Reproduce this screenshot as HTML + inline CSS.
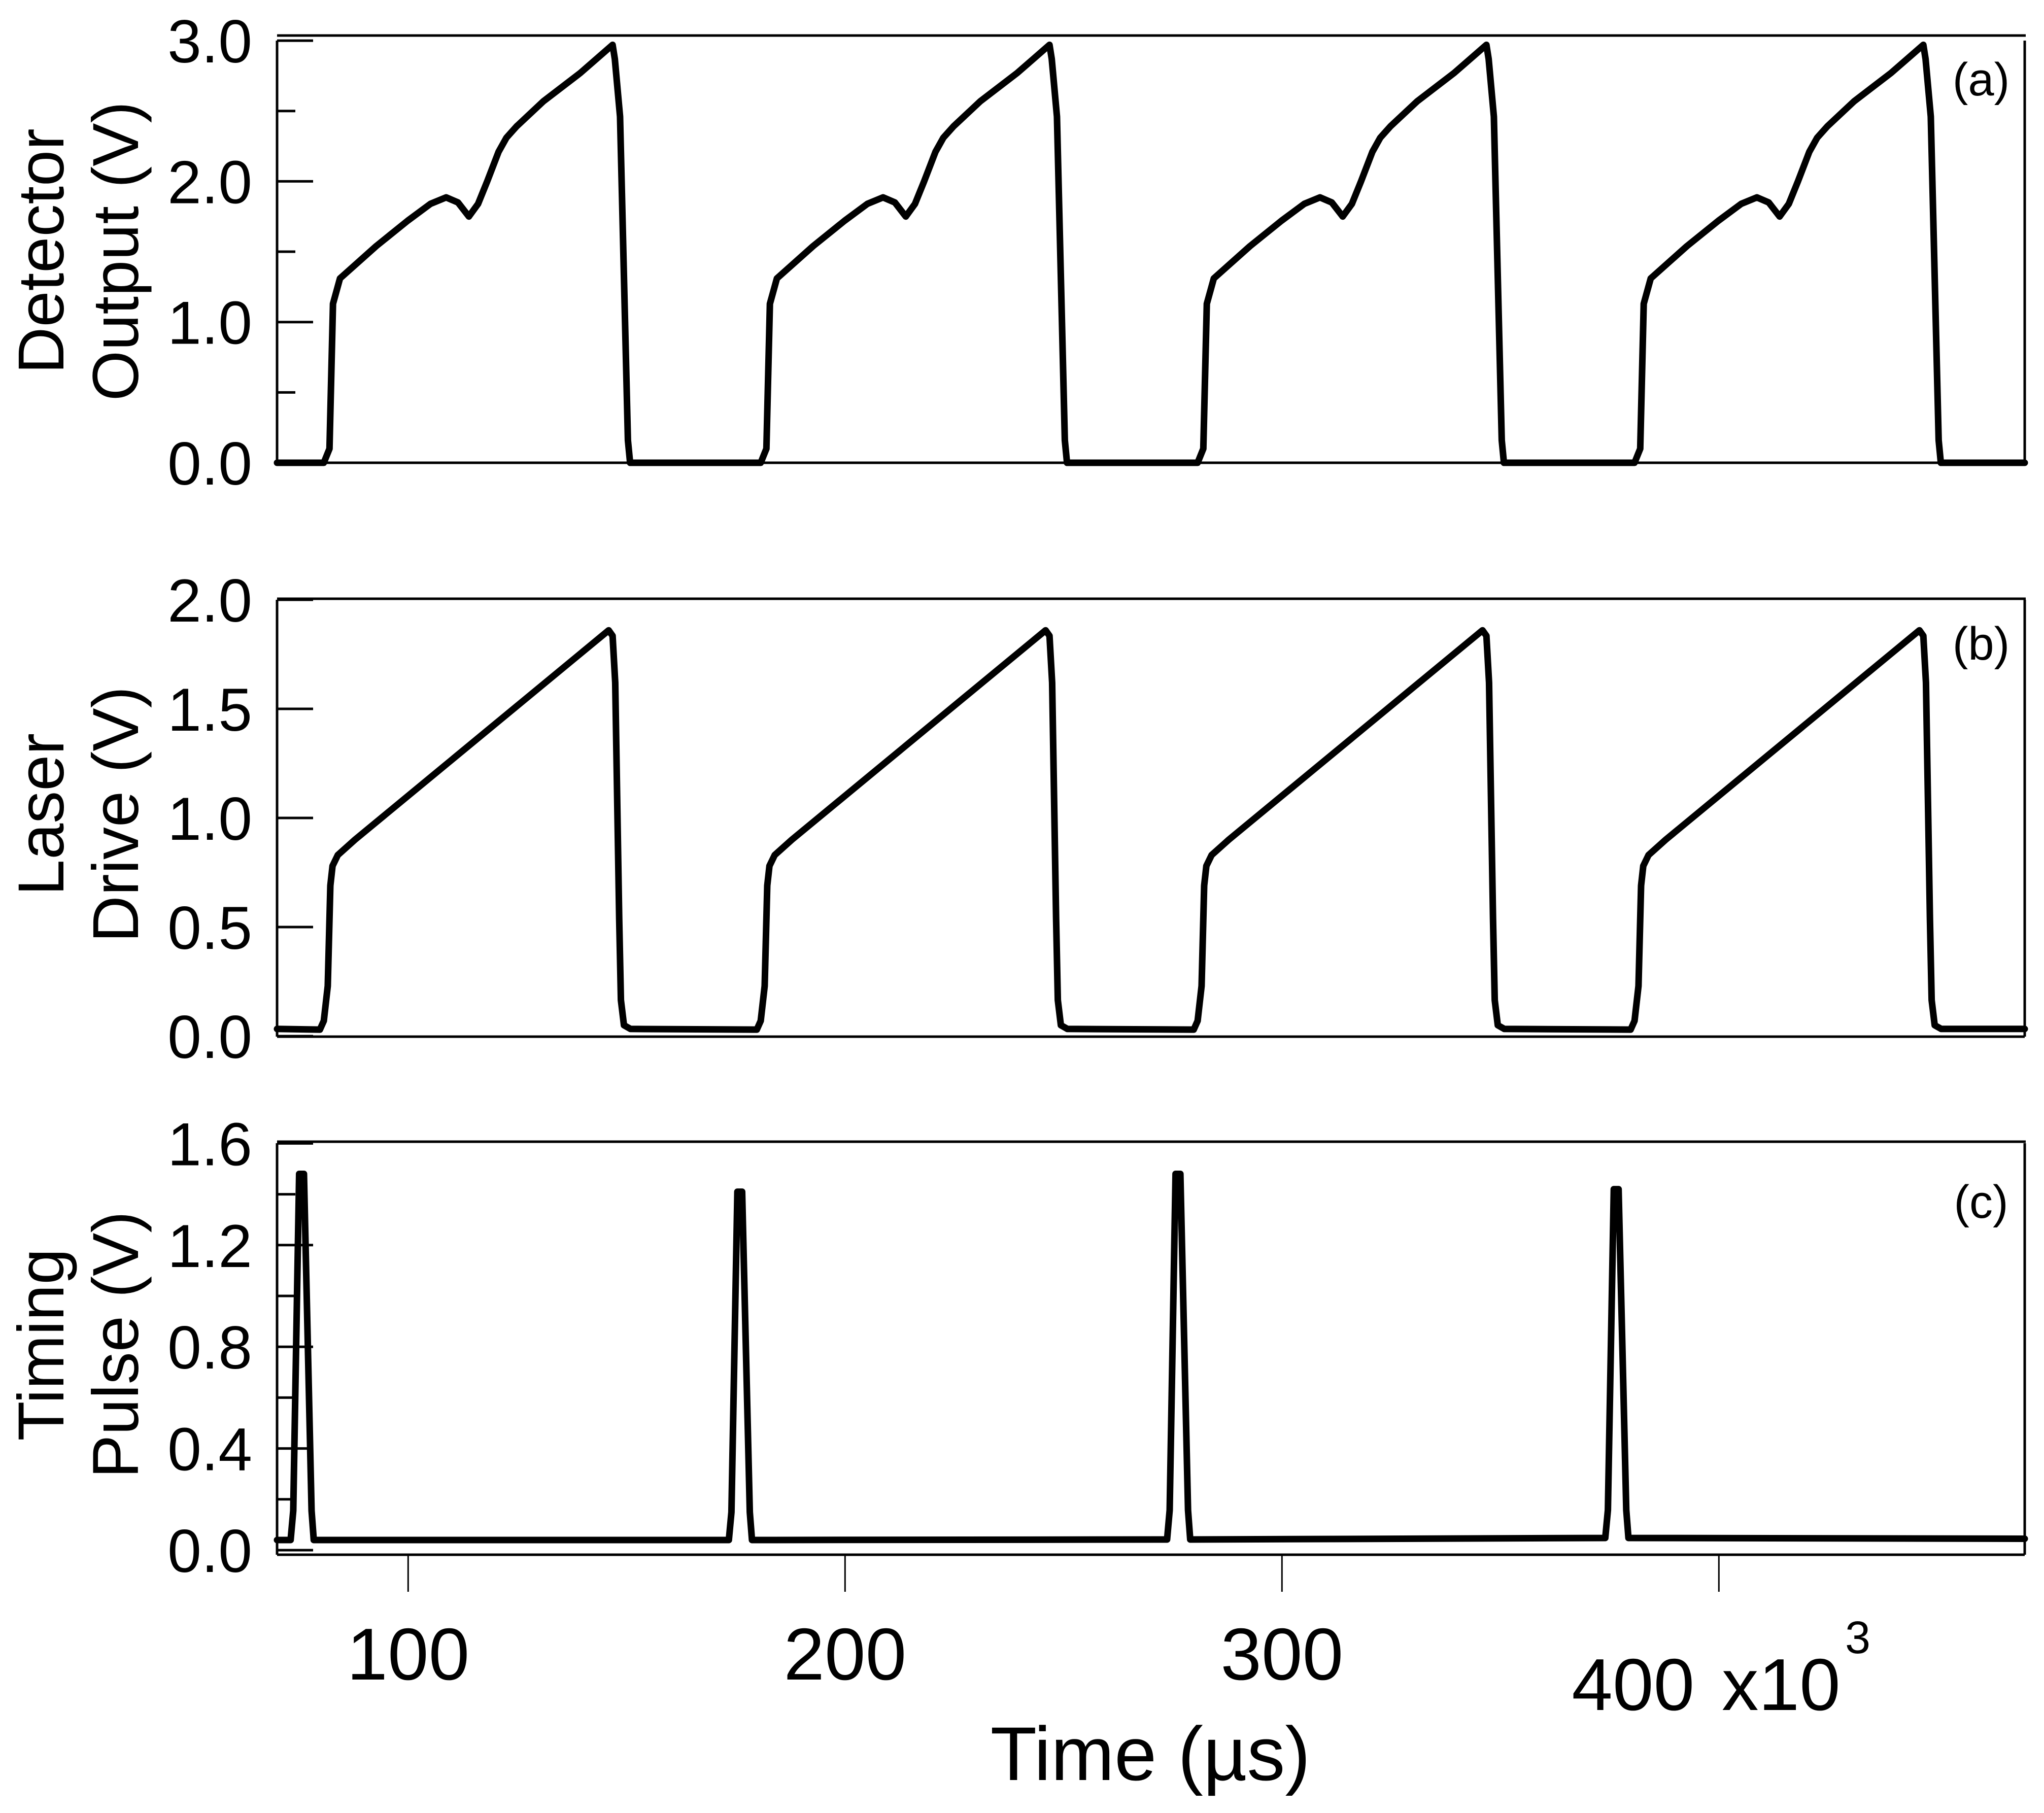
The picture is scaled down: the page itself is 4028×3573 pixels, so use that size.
<!DOCTYPE html>
<html><head><meta charset="utf-8"><style>
html,body{margin:0;padding:0;background:#fff;}
svg{display:block;font-family:"Liberation Sans",Arial,sans-serif;}
</style></head><body>
<svg id="chart" width="4028" height="3573" viewBox="0 0 4028 3573" xmlns="http://www.w3.org/2000/svg">
<g id="axes"></g><g id="traces"></g>
<text x="2267" y="3508" font-size="150" text-anchor="middle">Time (µs)</text>
<text x="3393" y="3370" font-size="145">x10</text>
<text x="3636" y="3258" font-size="90">3</text>
<text font-size="128" text-anchor="middle" transform="translate(125,495) rotate(-90)">Detector</text>
<text font-size="128" text-anchor="middle" transform="translate(272,495) rotate(-90)">Output (V)</text>
<text font-size="128" text-anchor="middle" transform="translate(125,1605) rotate(-90)">Laser</text>
<text font-size="128" text-anchor="middle" transform="translate(272,1605) rotate(-90)">Drive (V)</text>
<text font-size="128" text-anchor="middle" transform="translate(125,2650) rotate(-90)">Timing</text>
<text font-size="128" text-anchor="middle" transform="translate(272,2650) rotate(-90)">Pulse (V)</text>
<text x="3904" y="188" font-size="92" text-anchor="middle">(a)</text>
<text x="3904" y="1300" font-size="92" text-anchor="middle">(b)</text>
<text x="3904" y="2400" font-size="92" text-anchor="middle">(c)</text>
</svg>
<script>
// ---- data ----
const cycleOffsets = [0, 100, 200, 300];
const detTimes = [80.7, 82.0, 82.8, 84.4, 92.7, 99.9, 105.1, 108.7, 111.4, 113.9, 116.0, 118.1, 120.7, 122.5, 124.8, 131.0, 139.4, 146.8, 147.3, 148.5, 150.3, 150.8];
const detValues = [0, 0.10, 1.13, 1.31, 1.54, 1.72, 1.84, 1.886, 1.85, 1.75, 1.84, 2.0, 2.21, 2.31, 2.39, 2.57, 2.77, 2.97, 2.87, 2.46, 0.16, 0];
const detBaseline = 0;
const drvTimes = [79.8, 80.7, 81.6, 82.2, 82.7, 83.9, 87.8, 145.9, 146.8, 147.4, 148.3, 148.7, 149.4, 150.9];
const drvValues = [0.03, 0.07, 0.23, 0.69, 0.78, 0.83, 0.90, 1.86, 1.835, 1.62, 0.54, 0.165, 0.05, 0.033];
const drvBaseline = 0.033;
const spikeCenters = [75.6, 175.9, 276.2, 376.5];
const spikePeaks = [1.48, 1.41, 1.48, 1.42];
const spikeRel = [-2.5, -1.9, -0.55, 0.55, 2.3, 2.8];
const spikeFrac = [0, 0.08, 1, 1, 0.08, 0];
const timBaseline = [0.04, 0.04, 0.042, 0.048, 0.045];
const xTicks = [100, 200, 300, 400];
const xTickLabels = ["100", "200", "300", "400"];
const yTicksA = [0, 1, 2, 3]; const yLabelsA = ["0.0", "1.0", "2.0", "3.0"]; const yMinorA = [0.5, 1.5, 2.5];
const yTicksB = [0, 0.5, 1, 1.5, 2]; const yLabelsB = ["0.0", "0.5", "1.0", "1.5", "2.0"]; const yMinorB = [];
const yTicksC = [0, 0.4, 0.8, 1.2, 1.6]; const yLabelsC = ["0.0", "0.4", "0.8", "1.2", "1.6"]; const yMinorC = [0.2, 0.6, 1.0, 1.4];

// ---- scales ----
const X0 = 546, X1 = 3990, TMIN = 70, TMAX = 470;
const xs = t => X0 + (t - TMIN) * (X1 - X0) / (TMAX - TMIN);
const ya = v => 912 - 277.3 * v;
const yb = v => 2042 - 430 * v;
const yc = v => 3055 - 501 * v;
const NS = "http://www.w3.org/2000/svg";
const axes = document.getElementById('axes'), traces = document.getElementById('traces');
function mk(tag, attrs, parent) { const e = document.createElementNS(NS, tag); for (const k in attrs) e.setAttribute(k, attrs[k]); parent.appendChild(e); return e; }

function panel(id, top, bottom, yf, ticks, labels, minors, ylo) {
  const f = mk('path', { d: `M${X0},${top}H${X1 + 2}M${X0},${bottom}H${X1}M${X0},${ylo}V${bottom}M${X1},${ylo}V${bottom}`, stroke: '#000', 'stroke-width': 5, fill: 'none' }, axes);
  
  
  ticks.forEach((v, i) => {
    const y = yf(v);
    const t = mk('line', { x1: X0, x2: X0 + 71, y1: y, y2: y, stroke: '#000', 'stroke-width': 5 }, axes);
    
    
    const l = mk('text', { x: 497, y: y + 43, 'font-size': 120, 'text-anchor': 'end' }, axes);
    l.textContent = labels[i];
    
    
  });
  minors.forEach(v => {
    const y = yf(v);
    const t = mk('line', { x1: X0, x2: X0 + 36, y1: y, y2: y, stroke: '#000', 'stroke-width': 5 }, axes);
    
    
  });
}
panel('a', 70, 912, ya, yTicksA, yLabelsA, yMinorA, 80);
panel('b', 1180, 2043, yb, yTicksB, yLabelsB, yMinorB, 1182);
panel('c', 2250, 3064, yc, yTicksC, yLabelsC, yMinorC, 2253);

xTicks.forEach((t, i) => {
  const x = xs(t);
  const tk = mk('line', { x1: x, x2: x, y1: 3064, y2: 3137, stroke: '#000', 'stroke-width': 3 }, axes);
  
  
  const lab = mk('text', { x: i === 3 ? x - 290 : x, y: i === 3 ? 3370 : 3310, 'font-size': 145, 'text-anchor': i === 3 ? 'start' : 'middle' }, axes);
  lab.textContent = xTickLabels[i];
  
  
});

function poly(pts, name) {
  const p = mk('polyline', { points: pts.map(p => p[0].toFixed(1) + ',' + p[1].toFixed(1)).join(' '), fill: 'none', stroke: '#000', 'stroke-width': 13, 'stroke-linejoin': 'round', 'stroke-linecap': 'round' }, traces);
  
  
}
// detector
let pa = [[xs(TMIN), ya(detBaseline)]];
cycleOffsets.forEach(o => detTimes.forEach((t, i) => pa.push([xs(t + o), ya(detValues[i])])));
pa.push([xs(TMAX), ya(detBaseline)]);
poly(pa, 'detector-output-trace');
// drive
let pb = [[xs(TMIN), yb(drvBaseline)]];
cycleOffsets.forEach(o => drvTimes.forEach((t, i) => pb.push([xs(t + o), yb(drvValues[i])])));
pb.push([xs(TMAX), yb(drvBaseline)]);
poly(pb, 'laser-drive-trace');
// timing
let pc = [[xs(TMIN), yc(timBaseline[0])]];
spikeCenters.forEach((c, k) => {
  const b = timBaseline[k];
  spikeRel.forEach((r, i) => pc.push([xs(c + r), yc(b + spikeFrac[i] * (spikePeaks[k] - b))]));
});
pc.push([xs(TMAX), yc(timBaseline[4])]);
poly(pc, 'timing-pulse-trace');
</script>
</body></html>
